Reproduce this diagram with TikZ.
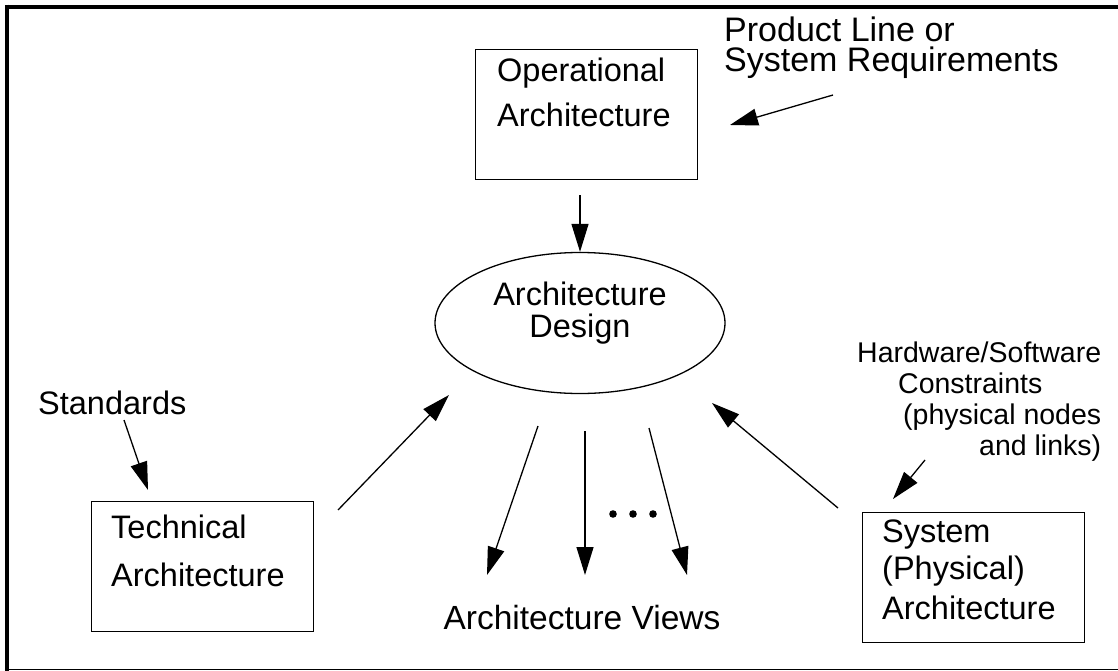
\documentclass[tikz,border=0pt]{standalone}
\usepackage{fontspec}
\setmainfont{Liberation Sans}
\usetikzlibrary{arrows.meta,shapes.geometric}
\begin{document}
\begin{tikzpicture}[x=1pt,y=-1pt,
  every node/.style={font=\fontsize{32.5}{36}\selectfont, inner sep=0pt},
  boxnode/.style={draw, line width=1.3pt, minimum width=222pt, minimum height=130pt, anchor=north west},
  txt/.style={anchor=west},
  conn/.style={line width=1.3pt, -{Triangle[length=28pt,width=17pt]}}]
\useasboundingbox (0,0) rectangle (1118,671);
% frame
\draw[line width=4.5pt] (7,4.75) -- (7,671);
\draw[line width=4.5pt] (4.75,7) -- (1118,7);
\draw[line width=1.5pt] (4.75,669.5) -- (1118,669.5);
% operational
\node[boxnode] (op) at (475,49) {};
\node[txt] (opt1) at (497,73) {Operational};
\node[txt] (opt2) at (497,115) {Architecture};
\node[anchor=north west, align=left, font=\fontsize{34}{30}\selectfont] (req) at (724,17) {Product Line or\\System Requirements};
\coordinate (reqs) at (833,95);
\coordinate (reqe) at (730,125);
\draw[conn] (reqs) -- (reqe);
% design
\node[draw, ellipse, line width=1.3pt, minimum width=290pt, minimum height=141pt] (ad) at (580,323) {};
\node[align=center, font=\fontsize{32.5}{32}\selectfont] (adt) at (580,313) {Architecture\\Design};
\draw[conn] (op.south -| ad.north) ++(0,15) coordinate (ops) (ops) -- (ad.north);
% technical
\node[txt] (std) at (38,403) {Standards};
\coordinate (stds) at (124,420);
\coordinate (stde) at (148,490);
\draw[conn] (stds) -- (stde);
\node[boxnode] (tech) at (91,501) {};
\node[txt] (tt1) at (111,527) {Technical};
\node[txt] (tt2) at (111,575) {Architecture};
\coordinate (techs) at (338,510);
\coordinate (teche) at (449,395);
\draw[conn] (techs) -- (teche);
% views
\coordinate (v1s) at (538,426);
\coordinate (v1e) at (487,575);
\coordinate (v2s) at (585,431);
\coordinate (v2e) at (585,575);
\coordinate (v3s) at (649,428);
\coordinate (v3e) at (687,575);
\draw[conn] (v1s) -- (v1e);
\draw[conn] (v2s) -- (v2e);
\draw[conn] (v3s) -- (v3e);
\fill (613,514) circle (3.8pt) (633,514) circle (3.8pt) (653,514) circle (3.8pt);
\node[font=\fontsize{33.5}{36}\selectfont] (views) at (582,618) {Architecture Views};
% system
\node[boxnode] (sys) at (862,512) {};
\node[txt] (st1) at (882,535) {System};
\node[txt] (st2) at (882,571) {(Physical)};
\node[txt] (st3) at (882,608) {Architecture};
\coordinate (syss) at (838,508);
\coordinate (syse) at (712,403);
\draw[conn] (syss) -- (syse);
\node[anchor=north west, align=left, font=\fontsize{28.5}{31}\selectfont] (hw) at (857,342)
  {Hardware/Software\\\hspace*{41pt}Constraints\\\hspace*{46pt}(physical nodes\\\hspace*{122pt}and links)};
\coordinate (hws) at (925,460);
\coordinate (hwe) at (893,499);
\draw[conn] (hws) -- (hwe);
\end{tikzpicture}
\end{document}
